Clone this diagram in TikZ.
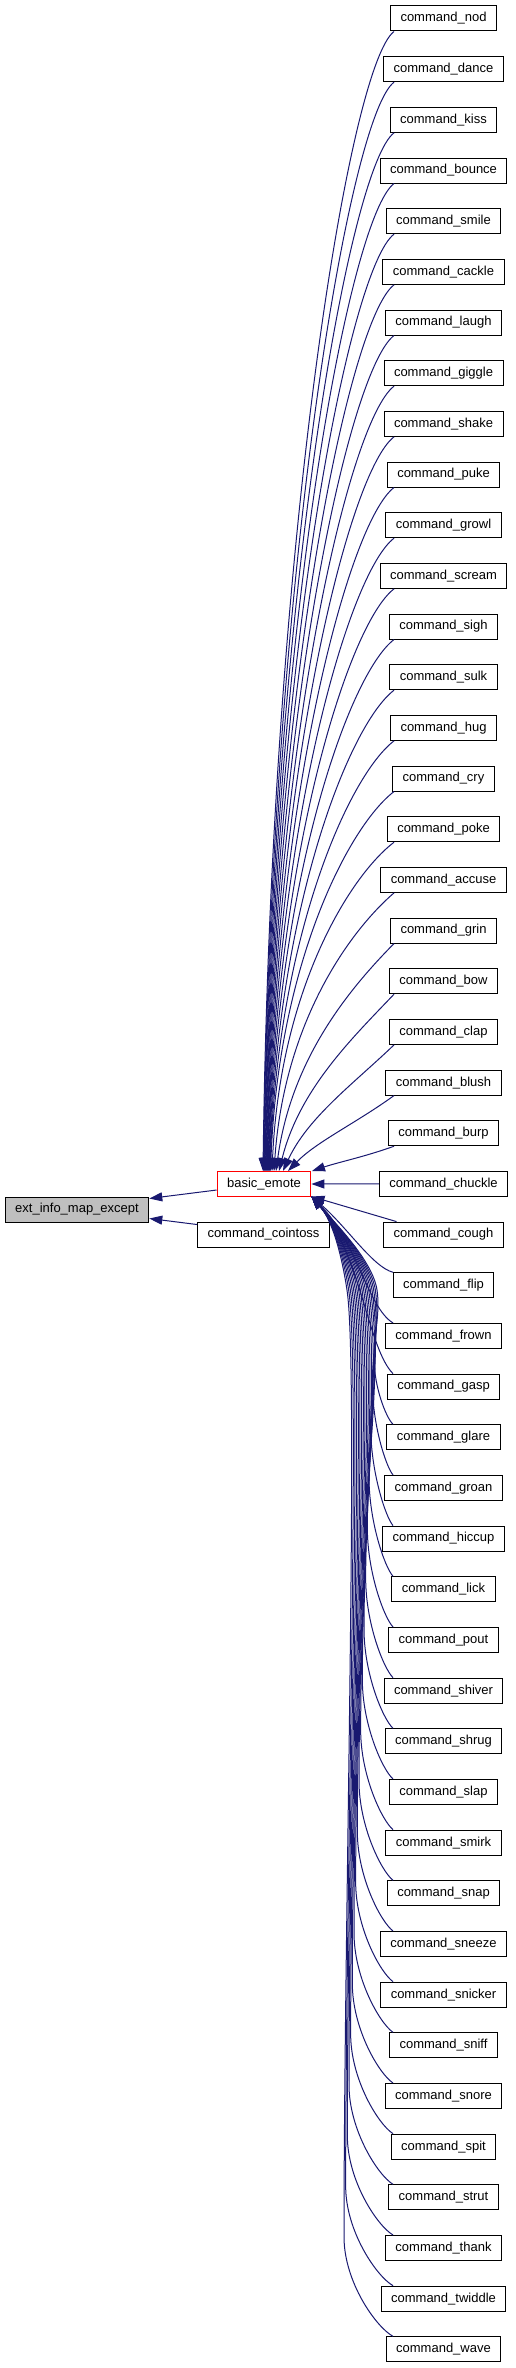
\documentclass[tikz,border=0pt]{standalone}
\usepackage{fontspec}
\setmainfont{Liberation Sans}
\usetikzlibrary{arrows.meta,calc}
\definecolor{edgeblue}{RGB}{25,25,112}
\definecolor{nodegray}{RGB}{191,191,191}
\begin{document}
\begin{tikzpicture}[x=1pt,y=-1pt,
  box/.style={draw=black,line width=1pt,fill=white,minimum height=25pt,
    inner xsep=10pt,inner ysep=0pt,font=\fontsize{13}{15}\selectfont},
  edge/.style={draw=edgeblue,line width=1pt,-{Triangle[length=13pt,width=9pt]}}]
\useasboundingbox (0,0) rectangle (515,2368);
% nodes
\node[box,fill=nodegray] (ext) at (77,1209.5) {ext\_info\_map\_except};
\node[box,draw=red] (basic) at (264,1184) {basic\_emote};
\node[box] (coin) at (263.5,1234.5) {command\_cointoss};
\foreach \nm [count=\i from 0] in {nod,dance,kiss,bounce,smile,cackle,laugh,giggle,shake,puke,growl,scream,sigh,sulk,hug,cry,poke,accuse,grin,bow,clap,blush,burp,chuckle,cough,flip,frown,gasp,glare,groan,hiccup,lick,pout,shiver,shrug,slap,smirk,snap,sneeze,snicker,sniff,snore,spit,strut,thank,twiddle,wave}
  \node[box] (c\i) at (443.5,{18.5+50.67*\i}) {command\_\nm};
\coordinate (corner) at (311.5,1196.5);
% edges to ext
\draw[edge] ($(basic.west)+(0,6)$) -- ($(ext.east)+(0,-11)$);
\draw[edge] ($(coin.west)+(0,-10)$) -- ($(ext.east)+(0,9)$);
% chuckle
\draw[edge] (c23.west) -- (basic.east);
% upper edges
\foreach \i/\ex in {0/263,1/263.5,2/264,3/264.5,4/265,5/265.5,6/266,7/266.5,8/267,9/267.5,10/268,11/268.5,12/269,13/269.5,14/270,15/270.5,16/272,17/274,18/276,19/279,20/283,21/288,22/312}{
  \pgfmathsetmacro\myyb{18.5+50.67*\i+12.5}
  \pgfmathsetmacro\myd{1171.5-\myyb}
  \pgfmathsetmacro\mys{min(1,\myd/300)}
  \pgfmathsetmacro\pax{\mys*(394-45)+(1-\mys)*(394-(394-\ex)/3)}
  \pgfmathsetmacro\pay{\mys*(\myyb+35)+(1-\mys)*(\myyb+\myd/3)}
  \pgfmathsetmacro\pbx{\mys*(\ex+8)+(1-\mys)*(394-2*(394-\ex)/3)}
  \pgfmathsetmacro\pby{\mys*(\myyb+0.45*\myd)+(1-\mys)*(\myyb+2*\myd/3)}
  \draw[edge] ($(c\i.south)+(-49.5,0)$) .. controls (\pax,\pay) and (\pbx,\pby) .. ($(basic.north)+({\ex-264},0)$);
}
% lower edges, near ones
\draw[edge] ($(c24.north)+(-47,0)$) -- (corner);
\draw[edge] ($(c25.north)+(-50.5,0)$) .. controls +(-20,-5) and +(35,30) .. (corner);
\draw[edge] ($(c26.north)+(-50.5,0)$) .. controls +(-25,-15) and +(45,45) .. (corner);
\draw[edge] ($(c27.north)+(-50.5,0)$) .. controls +(-25,-25) and +(50,60) .. (corner);
% lower edges, far ones
\foreach \i in {28,...,46}{
  \pgfmathsetmacro\myyt{18.5+50.67*\i-12.5}
  \pgfmathsetmacro\xm{377-30*(\i-28)/18}
  \pgfmathsetmacro\hh{min(100,0.5*(\myyt-1290))}
  \pgfmathsetmacro\axx{\xm-3}
  \pgfmathsetmacro\ayy{\myyt-\hh}
  \pgfmathsetmacro\sax{393-0.35*(393-\axx)}
  \pgfmathsetmacro\say{\myyt-0.1*\hh}
  \pgfmathsetmacro\sby{\ayy+0.45*\hh}
  \pgfmathsetmacro\LL{(\ayy-1290)/3}
  \pgfmathsetmacro\LM{min(\LL,80)}
  \pgfmathsetmacro\tay{\ayy-\LL}
  \pgfmathsetmacro\tbx{\xm+0.15*\LM}
  \pgfmathsetmacro\tby{1290+\LM}
  \draw[edge] ($(c\i.north)+(-50.5,0)$) .. controls (\sax,\say) and (\axx,\sby) .. (\axx,\ayy)
     .. controls (\axx,\tay) and (\tbx,\tby) .. (\xm,1290)
     .. controls +(-4.5,-30) and +(22,25) .. (corner);
}
\end{tikzpicture}
\end{document}
